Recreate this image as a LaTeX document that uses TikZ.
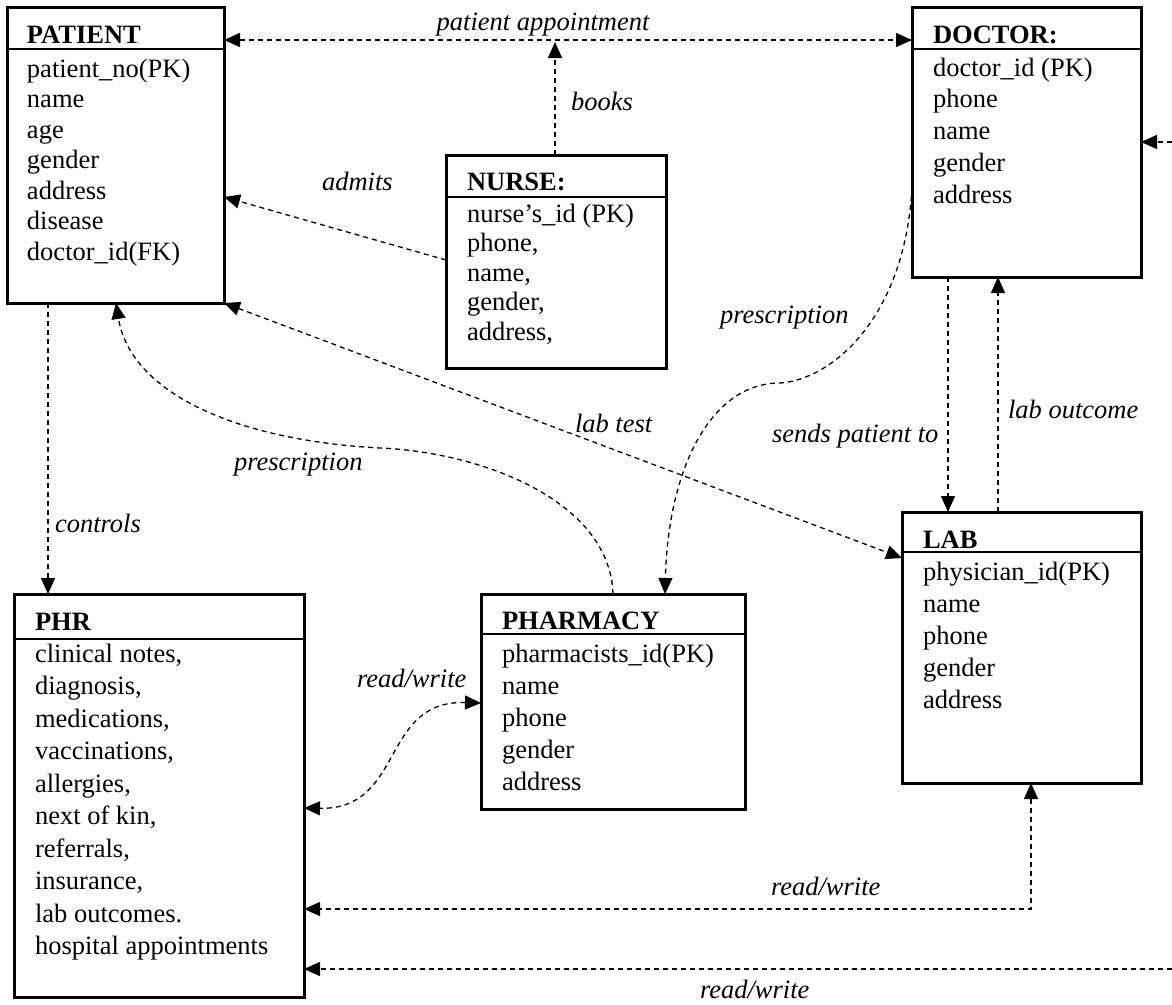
\documentclass[tikz,border=0pt]{standalone}
\usepackage{fontspec}
\setmainfont{Liberation Serif}
\usetikzlibrary{arrows.meta}
\begin{document}
\begin{tikzpicture}[x=1pt,y=-1pt,
  every node/.style={inner sep=0pt, outer sep=0pt},
  entity/.style={draw, line width=3pt, anchor=north west},
  sepline/.style={line width=1.2pt},
  field/.style={anchor=base west, font=\fontsize{26.5}{30}\selectfont},
  title/.style={anchor=base west, font=\fontsize{26.5}{30}\selectfont\bfseries},
  lbl/.style={anchor=base west, font=\fontsize{26.5}{30}\selectfont\itshape},
  conn/.style={line width=1.3pt, dash pattern=on 5pt off 4pt},
  >={Triangle[length=16pt,width=14pt]}]

\fill[white] (0,0) rectangle (1172,1004);
\useasboundingbox (0,0) rectangle (1172,1004);

% ---------- entities ----------
\node[entity, minimum width=217pt, minimum height=296pt] (patient) at (7,7) {};
\draw[sepline] (patient.west |- 0,49) -- (patient.east |- 0,49);
\node[title] (patientT) at (27,43) {PATIENT};
\foreach \t [count=\i] in {patient\_no(PK),name,age,gender,address,disease,doctor\_id(FK)}
  \node[field] (patient\i) at (27,{77+30.5*(\i-1)}) {\t};

\node[entity, minimum width=229pt, minimum height=270pt] (doctor) at (912,7) {};
\draw[sepline] (doctor.west |- 0,49) -- (doctor.east |- 0,49);
\node[title] (doctorT) at (933,43) {DOCTOR:};
\foreach \t [count=\i] in {doctor\_id (PK),phone,name,gender,address}
  \node[field] (doctor\i) at (933,{76+31.8*(\i-1)}) {\t};

\node[entity, minimum width=220pt, minimum height=213pt] (nurse) at (446,155) {};
\draw[sepline] (nurse.west |- 0,197) -- (nurse.east |- 0,197);
\node[title] (nurseT) at (467,190) {NURSE:};
\foreach \t [count=\i] in {nurse’s\_id (PK),{phone,},{name,},{gender,},{address,}}
  \node[field] (nurse\i) at (467,{222+29.5*(\i-1)}) {\t};

\node[entity, minimum width=239pt, minimum height=271pt] (lab) at (902,512) {};
\draw[sepline] (lab.west |- 0,552) -- (lab.east |- 0,552);
\node[title] (labT) at (923,548) {LAB};
\foreach \t [count=\i] in {physician\_id(PK),name,phone,gender,address}
  \node[field] (lab\i) at (923,{580+32*(\i-1)}) {\t};

\node[entity, minimum width=290pt, minimum height=403pt] (phr) at (14,594) {};
\draw[sepline] (phr.west |- 0,639) -- (phr.east |- 0,639);
\node[title] (phrT) at (35,630) {PHR};
\foreach \t [count=\i] in {{clinical notes,},{diagnosis,},{medications,},{vaccinations,},{allergies,},{next of kin,},{referrals,},{insurance,},lab outcomes.,hospital appointments}
  \node[field] (phr\i) at (35,{662+32.5*(\i-1)}) {\t};

\node[entity, minimum width=264pt, minimum height=215pt] (pharmacy) at (481,594) {};
\draw[sepline] (pharmacy.west |- 0,634) -- (pharmacy.east |- 0,634);
\node[title] (pharmacyT) at (502,629) {PHARMACY};
\foreach \t [count=\i] in {pharmacists\_id(PK),name,phone,gender,address}
  \node[field] (pharmacy\i) at (502,{662+32*(\i-1)}) {\t};

% ---------- free ends ----------
\coordinate (appt) at (555,42);
\coordinate (edgeA) at (1172,142);
\coordinate (edgeB) at (1172,969);

% ---------- relationships ----------
\draw[conn,<->] (patient.east |- 0,40) -- (doctor.west |- 0,40);
\node[lbl, anchor=base] (lblAppt) at (543,30) {patient appointment};

\draw[conn,->] (nurse.north -| 555,0) -- (appt);
\node[lbl] (lblBooks) at (571,110) {books};

\draw[conn,->] (nurse.west |- 0,260) -- (patient.east |- 0,197);
\node[lbl] (lblAdmits) at (322,190) {admits};

\draw[conn,<->] (patient.south east) -- (lab.west |- 0,558);
\node[lbl] (lblLabTest) at (575,432) {lab test};

\draw[conn,->] (doctor.west |- 0,187)
  .. controls (905,320) and (830,380) .. (780,383)
  .. controls (710,383) and (668,470) .. (pharmacy.north -| 665,0);
\node[lbl] (lblPrescA) at (720,323) {prescription};

\draw[conn,->] (pharmacy.north -| 613,0)
  .. controls (610,500) and (480,452) .. (380,448)
  .. controls (230,440) and (130,390) .. (patient.south -| 116,0);
\node[lbl] (lblPrescB) at (234,470) {prescription};

\draw[conn,->] (patient.south -| 48,0) -- (phr.north -| 48,0);
\node[lbl] (lblControls) at (55,532) {controls};

\draw[conn,->] (doctor.south -| 948,0) -- (lab.north -| 948,0);
\node[lbl] (lblSends) at (772,442) {sends patient to};

\draw[conn,->] (lab.north -| 998,0) -- (doctor.south -| 998,0);
\node[lbl] (lblOutcome) at (1008,418) {lab outcome};

\draw[conn,<->] (pharmacy.west |- 0,703)
  .. controls (380,700) and (405,810) .. (phr.east |- 0,808);
\node[lbl] (lblRwPharm) at (357,687) {read/write};

\draw[conn,<->] (lab.south -| 1031,0) |- (phr.east |- 0,909);
\node[lbl] (lblRwLab) at (771,895) {read/write};

\draw[conn,->] (edgeB) -- (phr.east |- 0,969);
\node[lbl] (lblRwEdge) at (700,998) {read/write};

\draw[conn,->] (edgeA) -- (doctor.east |- 0,142);
\end{tikzpicture}
\end{document}
